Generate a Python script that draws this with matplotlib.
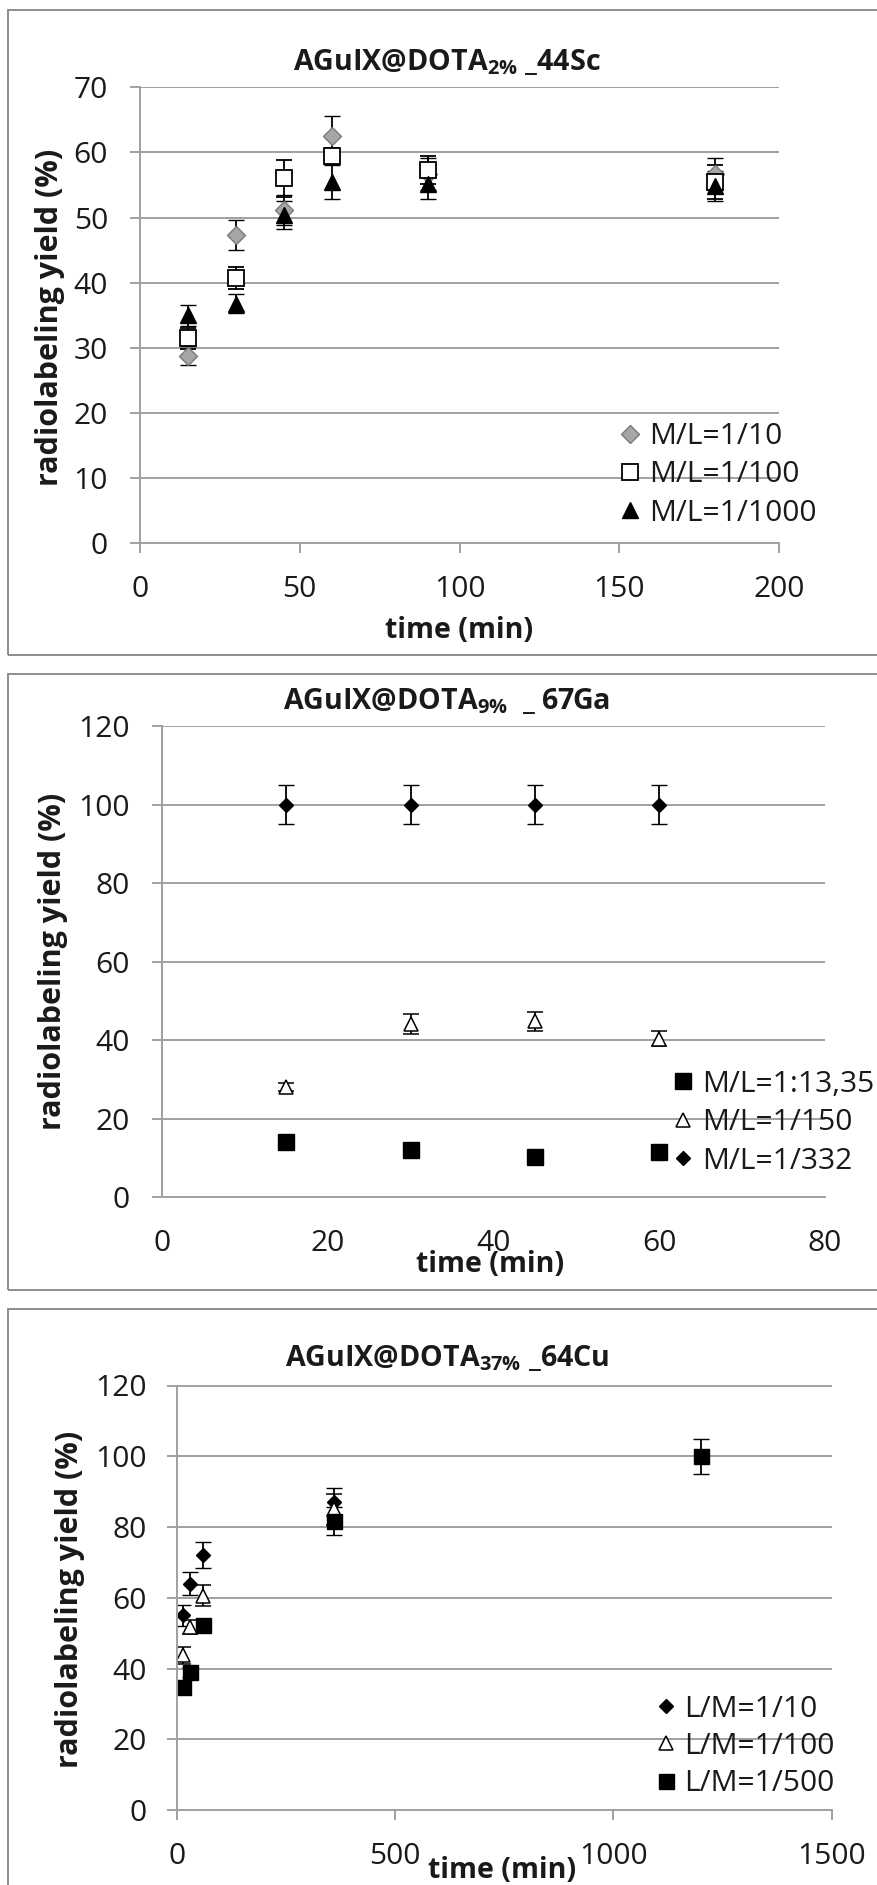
import matplotlib
matplotlib.use('Agg')
import matplotlib.pyplot as plt
from matplotlib.patches import Rectangle

# ---------------- data ----------------
# Panel 1: AGuIX@DOTA2% _44Sc
t_sc = [15, 30, 45, 60, 90, 180]
sc_10 = [28.8, 47.3, 51.1, 62.5, 56.7, 56.7]
sc_10_err = [1.5, 2.3, 2.3, 3.1, 2.5, 2.5]
sc_100 = [31.5, 40.7, 56.0, 59.5, 57.3, 55.4]
sc_100_err = [1.6, 1.7, 2.9, 1.2, 2.2, 2.6]
sc_1000 = [35.0, 36.8, 50.4, 55.5, 55.1, 54.8]
sc_1000_err = [1.6, 1.4, 2.2, 2.6, 2.2, 2.3]
sc_labels = ['M/L=1/10', 'M/L=1/100', 'M/L=1/1000']

# Panel 2: AGuIX@DOTA9% _ 67Ga
t_ga = [15, 30, 45, 60]
ga_1335 = [14.1, 12.1, 10.3, 11.6]
ga_150 = [28.0, 44.2, 44.8, 40.4]
ga_150_err = [1.0, 2.5, 2.5, 2.0]
ga_332 = [100.0, 100.0, 100.0, 100.0]
ga_332_err = [5.0, 5.0, 5.0, 5.0]
ga_labels = ['M/L=1:13,35', 'M/L=1/150', 'M/L=1/332']

# Panel 3: AGuIX@DOTA37% _64Cu
t_cu = [15, 30, 60, 360]
t_cu_500 = [15, 30, 60, 360, 1200]
cu_10 = [55.0, 64.0, 72.2, 87.1]
cu_10_err = [2.9, 3.2, 3.7, 4.0]
cu_100 = [43.7, 51.7, 60.6, 85.0]
cu_100_err = [2.3, 2.0, 2.9, 4.4]
cu_500 = [34.9, 39.0, 52.2, 81.7, 100.0]
cu_500_err = [1.5, 1.5, 1.8, 3.9, 5.0]
cu_labels = ['L/M=1/10', 'L/M=1/100', 'L/M=1/500']

titles = [r'AGuIX@DOTA$_{\mathregular{2\%}}$ _44Sc',
          r'AGuIX@DOTA$_{\mathregular{9\%}}$  _ 67Ga',
          r'AGuIX@DOTA$_{\mathregular{37\%}}$ _64Cu']
ylabel = 'radiolabeling yield (%)'
xlabel = 'time (min)'

# ---------------- style ----------------
plt.rcParams['font.family'] = ['Open Sans', 'DejaVu Sans']
plt.rcParams['mathtext.fontset'] = 'custom'
plt.rcParams['mathtext.rm'] = 'Open Sans'

W, H = 877, 1885
GRID = '#a0a0a0'
BORDER = '#8c8c8c'
TXT = '#1a1a1a'
FS = 21.6      # tick / legend font (pt)
YLFS = 22.0    # y label font
XLFS = 20.5    # x label font
TFS = 20.6     # title font

fig = plt.figure(figsize=(W / 100, H / 100), dpi=100)


def fxp(x):
    return x / W


def fyp(y):
    return 1 - y / H


def add_axes(l, t, r, b):
    return fig.add_axes([l / W, 1 - b / H, (r - l) / W, (b - t) / H])


def style(ax, xlim, xticks, ylim, yticks, xtick_len, xpad, ypad):
    ax.set_xlim(xlim)
    ax.set_ylim(ylim)
    ax.set_xticks(xticks)
    ax.set_yticks(yticks)
    for s in ['top', 'right']:
        ax.spines[s].set_visible(False)
    for s in ['left', 'bottom']:
        ax.spines[s].set_color(GRID)
        ax.spines[s].set_linewidth(1.4)
    ax.yaxis.grid(True, color=GRID, lw=1.4)
    ax.set_axisbelow(True)
    ax.patch.set_alpha(0)
    ax.tick_params(axis='both', direction='out', color=GRID, width=1.4,
                   labelsize=FS, labelcolor=TXT)
    ax.tick_params(axis='y', length=7.2, pad=ypad)
    ax.tick_params(axis='x', length=xtick_len, pad=xpad)


def panel_border(top, bottom):
    fig.add_artist(Rectangle((fxp(8.4), fyp(bottom)), fxp(890 - 8.4), (bottom - top) / H,
                             transform=fig.transFigure, fill=False, ec=BORDER, lw=1.4))


def labels(ax, axrect, title_xy, ylab_xy, xlab_xy, title):
    l, t, r, b = axrect
    fig.text(fxp(title_xy[0]), fyp(title_xy[1]), title, ha='center', va='center',
             fontsize=TFS, fontweight='bold', color=TXT)
    ax.set_ylabel(ylabel, fontsize=YLFS, fontweight='bold', color=TXT, va='center')
    ax.yaxis.set_label_coords((ylab_xy[0] - l) / (r - l), (b - ylab_xy[1]) / (b - t))
    ax.set_xlabel(xlabel, fontsize=XLFS, fontweight='bold', color=TXT, va='center')
    ax.xaxis.set_label_coords((xlab_xy[0] - l) / (r - l), (b - xlab_xy[1]) / (b - t))


def legend(ax, handles, labs, left, cy, spacing):
    ax.legend(handles=handles, labels=labs, loc='center left',
              bbox_to_anchor=(fxp(left), fyp(cy)), bbox_transform=fig.transFigure,
              frameon=False, borderpad=0, borderaxespad=0, handlelength=0.8,
              handletextpad=0.23, labelspacing=spacing, numpoints=1,
              fontsize=FS, labelcolor=TXT)


EB = dict(ecolor='black', elinewidth=1.3, capsize=6, capthick=1.3, linestyle='none')

# ---------------- Panel 1 ----------------
panel_border(10.4, 655)
r1 = (140, 87.3, 779, 543.3)
ax1 = add_axes(*r1)
style(ax1, (0, 200), [0, 50, 100, 150, 200], (0, 70), range(0, 71, 10), 7.2, 15.5, 15.8)
h1 = ax1.errorbar(t_sc, sc_10, yerr=sc_10_err, fmt='D', ms=8.7, mfc='#a6a6a6',
                  mec='#7a7a7a', mew=1.0, **EB)
h2 = ax1.errorbar(t_sc, sc_100, yerr=sc_100_err, fmt='s', ms=11, mfc='white',
                  mec='black', mew=1.3, **EB)
h3 = ax1.errorbar(t_sc, sc_1000, yerr=sc_1000_err, fmt='^', ms=11.5, mfc='black',
                  mec='black', mew=1.0, **EB)
labels(ax1, r1, (447, 62), (50, 317), (459, 630), titles[0])
legend(ax1, [h1[0], h2[0], h3[0]], sc_labels, 618, 475, 0.31)

# ---------------- Panel 2 ----------------
panel_border(674.3, 1289.6)
r2 = (162, 726, 825, 1197.3)
ax2 = add_axes(*r2)
style(ax2, (0, 80), [0, 20, 40, 60, 80], (0, 120), range(0, 121, 20), 0, 23.0, 15.8)
g1 = ax2.errorbar(t_ga, ga_1335, fmt='s', ms=11, mfc='black', mec='black', mew=1.0, **EB)
g2 = ax2.errorbar(t_ga, ga_150, yerr=ga_150_err, fmt='^', ms=10, mfc='white',
                  mec='black', mew=1.1, **EB)
g3 = ax2.errorbar(t_ga, ga_332, yerr=ga_332_err, fmt='D', ms=7.1, mfc='black',
                  mec='black', mew=1.0, **EB)
labels(ax2, r2, (447, 701), (53, 961), (490, 1265), titles[1])
legend(ax2, [g1[0], g2[0], g3[0]], ga_labels, 671, 1122.7, 0.32)

# ---------------- Panel 3 ----------------
panel_border(1309, 1900)
r3 = (176.7, 1385.5, 831.7, 1810)
ax3 = add_axes(*r3)
style(ax3, (0, 1500), [0, 500, 1000, 1500], (0, 120), range(0, 121, 20), 7.2, 15.8, 14.4)
c1 = ax3.errorbar(t_cu, cu_10, yerr=cu_10_err, fmt='D', ms=6.8, mfc='black',
                  mec='black', mew=1.0, **EB)
c2 = ax3.errorbar(t_cu, cu_100, yerr=cu_100_err, fmt='^', ms=10, mfc='white',
                  mec='black', mew=1.1, **EB)
c3 = ax3.errorbar(t_cu_500, cu_500, yerr=cu_500_err, fmt='s', ms=10.8, mfc='black',
                  mec='black', mew=1.0, **EB)
labels(ax3, r3, (447, 1358), (70, 1599), (502, 1870), titles[2])
legend(ax3, [c1[0], c2[0], c3[0]], cu_labels, 653.6, 1746.5, 0.27)

fig.savefig('out.png', dpi=100, facecolor='white')
